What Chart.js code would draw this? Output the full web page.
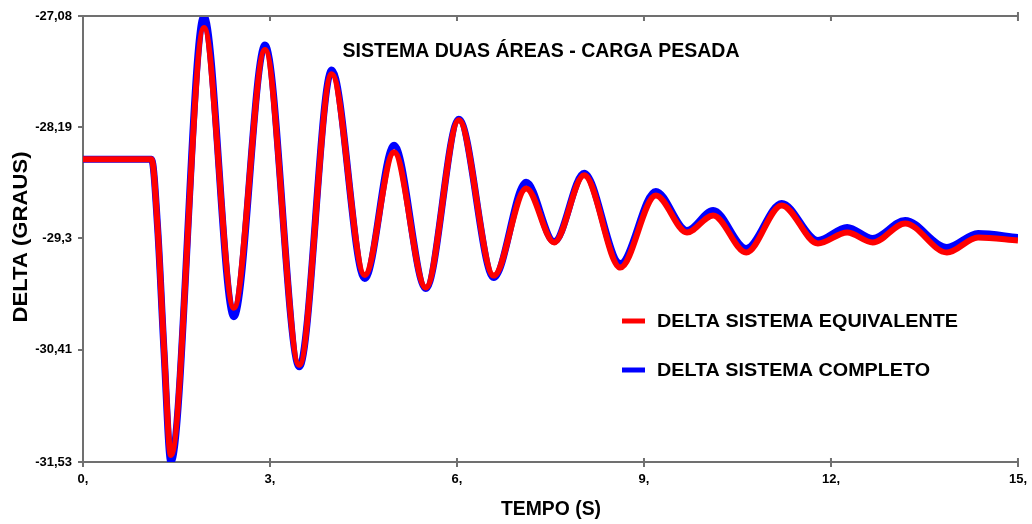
<!DOCTYPE html>
<html>
<head>
<meta charset="utf-8">
<script src="https://cdn.jsdelivr.net/npm/chart.js@4/dist/chart.umd.min.js"></script>
<style>
  html, body { margin: 0; padding: 0; background: #fff; }
  #wrap { width: 1032px; height: 524px; }
</style>
</head>
<body>
<div id="wrap"><canvas id="c" width="1032" height="524"></canvas></div>
<script>
// valores (tempo em s, delta em graus)
var tempo = [0, 1.10, 1.20, 1.30, 1.41, 1.94, 2.42, 2.92, 3.47, 3.99, 4.52, 4.99, 5.50, 6.03, 6.59, 7.11, 7.56, 8.04, 8.62, 9.19, 9.69, 10.11, 10.64, 11.21, 11.79, 12.26, 12.67, 13.19, 13.86, 14.36, 15.0];
var deltaEquivalente = [-28.51, -28.51, -29.22, -30.41, -31.46, -27.20, -29.99, -27.42, -30.56, -27.66, -29.665, -28.44, -29.79, -28.12, -29.67, -28.80, -29.34, -28.67, -29.59, -28.87, -29.24, -29.07, -29.44, -28.97, -29.35, -29.24, -29.34, -29.15, -29.44, -29.29, -29.32];
var deltaCompleto = [-28.51, -28.51, -29.22, -30.43, -31.53, -27.08, -30.08, -27.37, -30.58, -27.62, -29.70, -28.37, -29.80, -28.11, -29.69, -28.74, -29.33, -28.65, -29.55, -28.83, -29.22, -29.02, -29.40, -28.95, -29.32, -29.19, -29.30, -29.12, -29.39, -29.25, -29.29];

var xTicks = [0, 3, 6, 9, 12, 15];
var yTicks = [-31.53, -30.41, -29.3, -28.19, -27.08];

var titulo = 'SISTEMA DUAS ÁREAS - CARGA PESADA';
var tituloX = 'TEMPO (S)';
var tituloY = 'DELTA (GRAUS)';

var fonte = '"Liberation Sans", Arial, sans-serif';
var corEixo = '#707070';

function pontos(vals) {
  return tempo.map(function (t, i) { return { x: t, y: vals[i] }; });
}

// texto ajustado a uma largura fixa
function textoAjustado(ctx, txt, x, y, largura, tam, align, rot) {
  ctx.save();
  ctx.translate(x, y);
  if (rot) ctx.rotate(rot);
  ctx.font = 'bold ' + tam + 'px ' + fonte;
  var w = ctx.measureText(txt).width;
  ctx.scale(largura / w, 1);
  ctx.textAlign = align || 'center';
  ctx.textBaseline = 'middle';
  ctx.fillStyle = '#000';
  ctx.fillText(txt, 0, 0);
  ctx.restore();
}

var extras = {
  id: 'extras',
  afterDraw: function (chart) {
    var ctx = chart.ctx;
    var a = chart.chartArea;
    var sx = chart.scales.x;

    // linha superior com marcas, e marcas internas do eixo x
    ctx.save();
    ctx.strokeStyle = corEixo;
    ctx.lineWidth = 2;
    ctx.beginPath();
    ctx.moveTo(a.left, a.top);
    ctx.lineTo(a.right, a.top);
    xTicks.forEach(function (v) {
      if (v === 0) return;
      var px = sx.getPixelForValue(v);
      ctx.moveTo(px, a.top - (v === 15 ? 4 : 0));
      ctx.lineTo(px, a.top + 5);
      ctx.moveTo(px, a.bottom);
      ctx.lineTo(px, a.bottom - 4);
    });
    ctx.stroke();
    ctx.restore();

    textoAjustado(ctx, titulo, 541, 51, 397, 21, 'center');
    textoAjustado(ctx, tituloX, 551, 509, 100, 20, 'center');
    textoAjustado(ctx, tituloY, 21, 237, 171, 21, 'center', -Math.PI / 2);

    // legenda
    var itens = [chart.data.datasets[0], chart.data.datasets[1]];
    var ys = [321, 370];
    itens.forEach(function (ds, i) {
      ctx.save();
      ctx.strokeStyle = ds.borderColor;
      ctx.lineWidth = 5;
      ctx.beginPath();
      ctx.moveTo(622, ys[i]);
      ctx.lineTo(645, ys[i]);
      ctx.stroke();
      ctx.restore();
    });
    textoAjustado(ctx, itens[0].label, 657, 322, 301, 18, 'left');
    textoAjustado(ctx, itens[1].label, 657, 371, 273, 18, 'left');
  }
};

new Chart(document.getElementById('c'), {
  type: 'line',
  data: {
    datasets: [
      {
        label: 'DELTA SISTEMA EQUIVALENTE',
        data: pontos(deltaEquivalente),
        borderColor: '#ff0000',
        borderWidth: 6,
        pointRadius: 0,
        cubicInterpolationMode: 'monotone',
        order: 0
      },
      {
        label: 'DELTA SISTEMA COMPLETO',
        data: pontos(deltaCompleto),
        borderColor: '#0000ff',
        borderWidth: 7,
        pointRadius: 0,
        cubicInterpolationMode: 'monotone',
        order: 1
      }
    ]
  },
  options: {
    responsive: false,
    animation: false,
    layout: { padding: { left: 0, right: 14, top: 16, bottom: 0 } },
    plugins: {
      legend: { display: false },
      title: { display: false },
      tooltip: { enabled: false }
    },
    scales: {
      x: {
        type: 'linear',
        min: 0,
        max: 15,
        afterBuildTicks: function (s) { s.ticks = xTicks.map(function (v) { return { value: v }; }); },
        afterFit: function (s) { s.height = 62; },
        ticks: {
          autoSkip: false,
          maxRotation: 0,
          padding: 5,
          color: '#000',
          font: { family: fonte, size: 13, weight: 'bold' },
          callback: function (v) { return v + ','; }
        },
        grid: { drawOnChartArea: false, tickLength: 5, color: corEixo, lineWidth: 2 },
        border: { color: corEixo, width: 2 }
      },
      y: {
        min: -31.53,
        max: -27.08,
        afterBuildTicks: function (s) { s.ticks = yTicks.map(function (v) { return { value: v }; }); },
        afterFit: function (s) { s.width = 83; },
        ticks: {
          autoSkip: false,
          padding: 6,
          color: '#000',
          font: { family: fonte, size: 13, weight: 'bold' },
          callback: function (v) { return String(v).replace('.', ','); }
        },
        grid: { drawOnChartArea: false, tickLength: 5, color: corEixo, lineWidth: 2 },
        border: { color: corEixo, width: 2 }
      }
    }
  },
  plugins: [extras]
});
</script>
</body>
</html>
